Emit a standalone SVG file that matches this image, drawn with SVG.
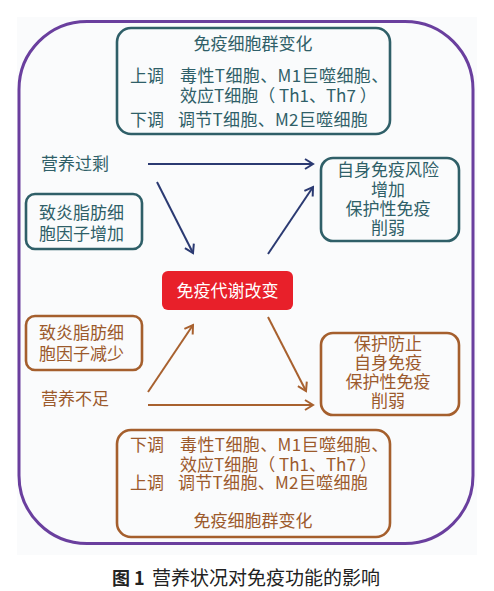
<svg xmlns="http://www.w3.org/2000/svg" width="494" height="591" viewBox="0 0 494 591">
<defs>
<style>
text{font-family:"Noto Sans CJK SC","Liberation Sans",sans-serif;font-size:17px}
.t{fill:#2f5f68}
.b{fill:#9c5a2c}
.tb{fill:none;stroke:#2f5f68;stroke-width:2.6}
.bb{fill:none;stroke:#a55f2d;stroke-width:2.6}
.n{stroke:#2b3a72;stroke-width:2;fill:none;marker-end:url(#an)}
.r{stroke:#a8612f;stroke-width:2;fill:none;marker-end:url(#ar)}
.c{text-anchor:middle}
</style>
<marker id="an" viewBox="0 0 12 12" refX="10" refY="6" markerWidth="12" markerHeight="12" markerUnits="userSpaceOnUse" orient="auto"><path d="M2,1 L10,6 L2,11" fill="none" stroke="#2b3a72" stroke-width="2"/></marker>
<marker id="ar" viewBox="0 0 12 12" refX="10" refY="6" markerWidth="12" markerHeight="12" markerUnits="userSpaceOnUse" orient="auto"><path d="M2,1 L10,6 L2,11" fill="none" stroke="#a8612f" stroke-width="2"/></marker>
</defs>
<rect width="494" height="591" fill="#ffffff"/>
<rect x="17" y="17" width="460" height="538" fill="#fafbfc"/>
<g id="frame"><rect x="19" y="21.5" width="454" height="522" rx="68" ry="68" fill="none" stroke="#6a3f9e" stroke-width="3"/></g>
<g id="top-box">
<rect class="tb" x="117" y="28" width="273" height="106" rx="14"/>
<text class="t c" x="253" y="50">免疫细胞群变化</text>
<text class="t" x="130" y="82">上调</text>
<text class="t" x="180" y="82" letter-spacing="0.4">毒性T细胞、M1巨噬细胞、</text>
<text class="t" x="180" y="102">效应T细胞（ Th1、Th7 ）</text>
<text class="t" x="130" y="126">下调</text>
<text class="t" x="178" y="126" letter-spacing="0.3">调节T细胞、M2巨噬细胞</text>
</g>
<g id="over"><text class="t" x="41" y="170">营养过剩</text></g>
<g id="inc-box">
<rect class="tb" x="26" y="194" width="116" height="55" rx="9"/>
<text class="t" x="39" y="219">致炎脂肪细</text>
<text class="t" x="39" y="240">胞因子增加</text>
</g>
<g id="risk-box">
<rect class="tb" x="321" y="158" width="138" height="83" rx="12"/>
<text class="t c" x="388" y="176">自身免疫风险</text>
<text class="t c" x="388" y="196">增加</text>
<text class="t c" x="388" y="215">保护性免疫</text>
<text class="t c" x="388" y="234">削弱</text>
</g>
<g id="center">
<rect x="162" y="271" width="131" height="39" rx="6" fill="#e8202a"/>
<text class="c" x="227.5" y="297" fill="#ffffff">免疫代谢改变</text>
</g>
<g id="dec-box">
<rect class="bb" x="26" y="316" width="116" height="54" rx="9"/>
<text class="b" x="39" y="339">致炎脂肪细</text>
<text class="b" x="39" y="360">胞因子减少</text>
</g>
<g id="under"><text class="b" x="41" y="405">营养不足</text></g>
<g id="protect-box">
<rect class="bb" x="321" y="333" width="138" height="82" rx="12"/>
<text class="b c" x="388" y="350">保护防止</text>
<text class="b c" x="388" y="369">自身免疫</text>
<text class="b c" x="388" y="388">保护性免疫</text>
<text class="b c" x="388" y="407">削弱</text>
</g>
<g id="bottom-box">
<rect class="bb" x="117" y="430" width="273" height="107" rx="14"/>
<text class="b" x="130" y="451">下调</text>
<text class="b" x="180" y="451" letter-spacing="0.4">毒性T细胞、M1巨噬细胞、</text>
<text class="b" x="180" y="471">效应T细胞（ Th1、Th7 ）</text>
<text class="b" x="130" y="489">上调</text>
<text class="b" x="178" y="489" letter-spacing="0.3">调节T细胞、M2巨噬细胞</text>
<text class="b c" x="253" y="527">免疫细胞群变化</text>
</g>
<g id="connectors">
<line class="n" x1="148" y1="164" x2="313" y2="164"/>
<line class="n" x1="157" y1="182" x2="193" y2="253"/>
<line class="n" x1="268" y1="254" x2="313" y2="187"/>
<line class="r" x1="148" y1="392" x2="193" y2="325"/>
<line class="r" x1="268" y1="317" x2="306" y2="391"/>
<line class="r" x1="148" y1="405" x2="313" y2="405"/>
</g>
<g id="caption">
<text x="112" y="585" font-weight="bold" fill="#222" style="font-size:18px">图 1</text>
<text x="152" y="585" fill="#222" style="font-size:19px">营养状况对免疫功能的影响</text>
</g>
</svg>
